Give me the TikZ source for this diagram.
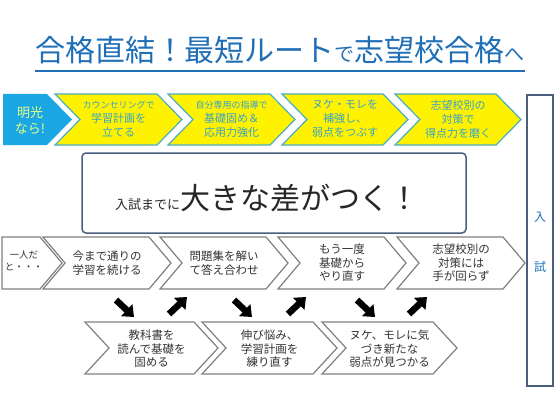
\documentclass[tikz,border=0pt]{standalone}
\usepackage{fontspec}
\setmainfont{Noto Sans CJK JP}
\usetikzlibrary{arrows.meta}

\definecolor{titleblue}{HTML}{1F6FB6}
\definecolor{meikoblue}{HTML}{1AA7E4}
\definecolor{tealline}{HTML}{4BACC6}
\definecolor{tealtext}{HTML}{36A2CC}
\definecolor{boxline}{HTML}{4A5E7E}
\definecolor{chevgray}{HTML}{808080}
\definecolor{paleyellow}{HTML}{E8FF8A}

\tikzset{
  yellowchev/.style={fill=yellow, draw=tealline, line width=1.2pt},
  whitechev/.style={fill=white, draw=chevgray, line width=1.2pt},
  yellowtext/.style={text=tealtext, align=center, font=\fontsize{11}{14}\selectfont},
  graytext/.style={text=black!80, align=center, font=\fontsize{11.5}{13.5}\selectfont},
  blockarrow/.style={line width=6.5pt, -{Triangle[width=16pt,length=10pt]}},
}

% chevron: style, left x, point x, top y, bottom y, depth
\newcommand{\chev}[6]{%
  \path[#1] (#2,-#4) -- ({#3-#6},-#4) -- (#3,{-(#4+#5)/2}) -- ({#3-#6},-#5)
    -- (#2,-#5) -- ({#2+#6},{-(#4+#5)/2}) -- cycle;}

\begin{document}
\begin{tikzpicture}[x=1pt,y=1pt]

\path[fill=white] (0,0) rectangle (560,-420);

% Title
\node[text=titleblue, anchor=base, inner xsep=0pt] (title) at (280,-62)
  {{\fontsize{30}{30}\selectfont 合格直結！最短ルート}{\fontsize{20}{20}\selectfont で}{\fontsize{30}{30}\selectfont 志望校合格}{\fontsize{20}{20}\selectfont へ}};
\draw[titleblue, line width=1.5pt] ([yshift=-9pt]title.base west) -- ([yshift=-9pt]title.base east);

% Top row
\path[fill=meikoblue] (3,-94) -- (47,-94) -- (72,-119.5) -- (47,-145) -- (3,-145) -- cycle;
\node[text=paleyellow, align=center, font=\fontsize{13}{16}\selectfont] (meiko) at (30,-120) {明光\\なら!};

\chev{yellowchev}{55}{182}{94}{145}{25}
\chev{yellowchev}{168}{295}{94}{145}{25}
\chev{yellowchev}{282}{408}{94}{145}{25}
\chev{yellowchev}{395}{521}{94}{145}{25}

\node[yellowtext] (plan) at (118.5,-119)
  {{\fontsize{9}{11}\selectfont カウンセリングで}\\学習計画を\\立てる};
\node[yellowtext] (basics) at (231.5,-119)
  {{\fontsize{9}{11}\selectfont 自分専用の指導で}\\基礎固め＆\\応用力強化};
\node[yellowtext] (weak) at (345,-119) {ヌケ・モレを\\補強し、\\弱点をつぶす};
\node[yellowtext] (score) at (458,-119) {志望校別の\\対策で\\得点力を磨く};

% Middle box
\node[draw=boxline, line width=1.5pt, rounded corners=4pt, minimum width=384pt,
  minimum height=80pt] (gapbox) at (274,-193) {};
\node[anchor=base, text=black!85] (gaptext) at (267.5,-209)
  {{\fontsize{13}{13}\selectfont 入試までに}{\fontsize{30}{30}\selectfont 大きな差がつく！}};

% Exam box
\node[draw=boxline, line width=1.5pt, minimum width=26pt, minimum height=291pt] (exam) at (540,-240.5) {};
\node[text=titleblue, font=\fontsize{12}{12}\selectfont] (examA) at (540,-217) {入};
\node[text=titleblue, font=\fontsize{12}{12}\selectfont] (examB) at (540,-267) {試};

% Bottom row
\path[whitechev] (2,-237) -- (40,-237) -- (62,-263) -- (40,-289) -- (2,-289) -- cycle;
\chev{whitechev}{43}{171}{237}{289}{22}
\chev{whitechev}{160}{288}{237}{289}{22}
\chev{whitechev}{278}{406}{237}{289}{22}
\chev{whitechev}{397}{525}{237}{289}{22}

\node[graytext, font=\fontsize{9.5}{12}\selectfont] (alone) at (24,-261) {一人だ\\と・・・};
\node[graytext] (same) at (107,-263) {今まで通りの\\学習を続ける};
\node[graytext] (drill) at (224,-263) {問題集を解い\\て答え合わせ};
\node[graytext] (redo) at (342,-263) {もう一度\\基礎から\\やり直す};
\node[graytext] (nohand) at (461,-263) {志望校別の\\対策には\\手が回らず};

% Third row
\chev{whitechev}{85}{218}{322}{374}{24}
\chev{whitechev}{202}{337}{322}{374}{24}
\chev{whitechev}{322}{457}{322}{374}{24}

\node[graytext] (textbook) at (151.5,-349) {教科書を\\読んで基礎を\\固める};
\node[graytext] (stuck) at (269.5,-349) {伸び悩み、\\学習計画を\\練り直す};
\node[graytext] (newweak) at (389.5,-349) {ヌケ、モレに気\\づき新たな\\弱点が見つかる};

% Block arrows
\foreach \x in {116,234,357} \draw[blockarrow] (\x,-300) -- ++(18,-17);
\foreach \x in {169,288,409} \draw[blockarrow] (\x,-314) -- ++(18,17);

\end{tikzpicture}
\end{document}
